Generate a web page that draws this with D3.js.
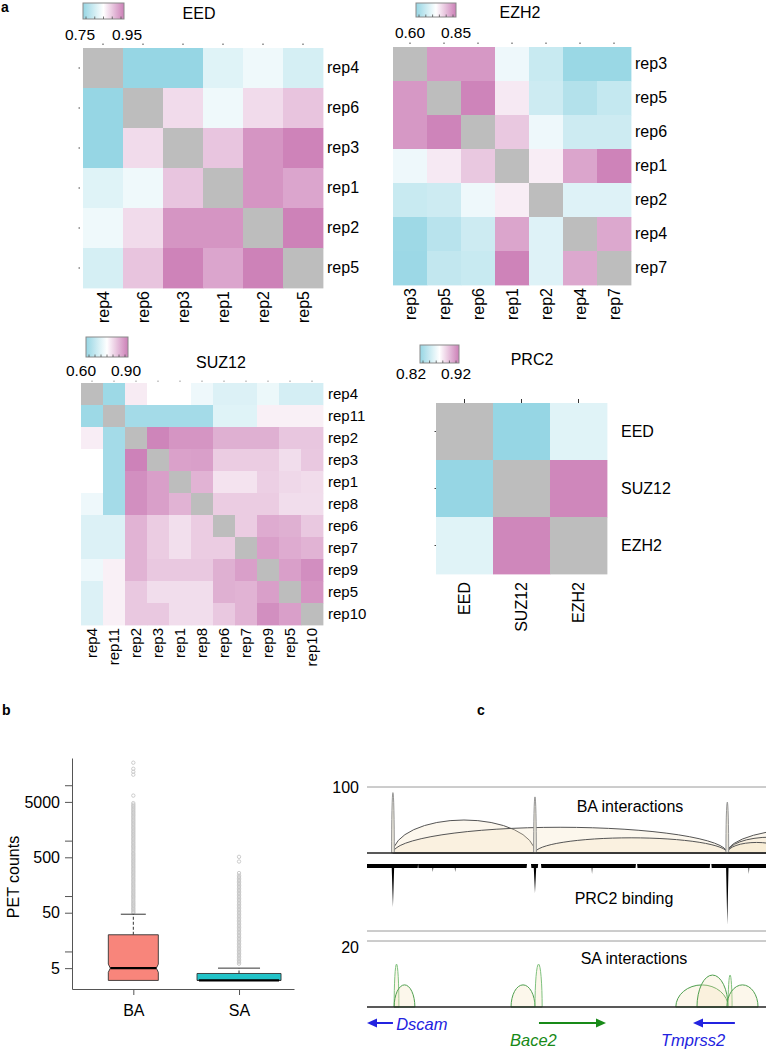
<!DOCTYPE html>
<html><head><meta charset="utf-8">
<script src="https://cdn.jsdelivr.net/npm/d3@7"></script>
<style>
body{margin:0;background:#fff;}
svg{display:block;}
</style></head><body>
<svg id="fig" width="766" height="1050"></svg>
<script>
// ================= DATA =================
// --- panel a: correlation heatmaps (null = diagonal) ---
const eedLabels = ["rep4","rep6","rep3","rep1","rep2","rep5"];
const eedValues = [
  [null, 0.74, 0.74, 0.82, 0.835, 0.81],
  [0.74, null, 0.878, 0.835, 0.878, 0.896],
  [0.74, 0.878, null, 0.895, 0.933, 0.947],
  [0.82, 0.835, 0.895, null, 0.933, 0.92],
  [0.835, 0.878, 0.933, 0.933, null, 0.948],
  [0.81, 0.896, 0.947, 0.92, 0.948, null]
];
const eedRange = [0.75, 0.95];
const eedTickLabels = ["0.75", "0.95"];

const ezh2Labels = ["rep3","rep5","rep6","rep1","rep2","rep4","rep7"];
const ezh2Values = [
  [null, 0.826, 0.826, 0.705, 0.66, 0.605, 0.605],
  [0.826, null, 0.845, 0.746, 0.665, 0.634, 0.655],
  [0.826, 0.845, null, 0.779, 0.705, 0.665, 0.665],
  [0.705, 0.746, 0.779, null, 0.743, 0.813, 0.846],
  [0.66, 0.665, 0.705, 0.743, null, 0.686, 0.686],
  [0.61, 0.64, 0.665, 0.813, 0.686, null, 0.81],
  [0.607, 0.652, 0.66, 0.846, 0.686, 0.81, null]
];
const ezh2Range = [0.60, 0.85];
const ezh2TickLabels = ["0.60", "0.85"];

const suz12Labels = ["rep4","rep11","rep2","rep3","rep1","rep8","rep6","rep7","rep9","rep5","rep10"];
const suz12Values = [
  [null, 0.61, 0.774, 0.75, 0.75, 0.726, 0.70, 0.70, 0.723, 0.688, 0.688],
  [0.61, null, 0.62, 0.62, 0.62, 0.62, 0.705, 0.705, 0.768, 0.768, 0.768],
  [0.771, 0.62, null, 0.893, 0.874, 0.874, 0.843, 0.843, 0.843, 0.817, 0.817],
  [0.75, 0.62, 0.896, null, 0.86, 0.862, 0.81, 0.81, 0.81, 0.79, 0.815],
  [0.75, 0.62, 0.881, 0.862, null, 0.839, 0.783, 0.783, 0.806, 0.796, 0.791],
  [0.726, 0.62, 0.881, 0.862, 0.839, null, 0.81, 0.81, 0.81, 0.79, 0.79],
  [0.70, 0.70, 0.839, 0.81, 0.787, 0.81, null, 0.81, 0.848, 0.843, 0.815],
  [0.70, 0.70, 0.839, 0.81, 0.787, 0.81, 0.81, null, 0.863, 0.848, 0.839],
  [0.726, 0.768, 0.839, 0.815, 0.815, 0.815, 0.843, 0.863, null, 0.863, 0.882],
  [0.70, 0.768, 0.815, 0.79, 0.79, 0.79, 0.843, 0.839, 0.863, null, 0.874],
  [0.70, 0.768, 0.815, 0.815, 0.79, 0.79, 0.815, 0.839, 0.881, 0.863, null]
];
const suz12Range = [0.60, 0.90];
const suz12TickLabels = ["0.60", "0.90"];

const prc2Labels = ["EED","SUZ12","EZH2"];
const prc2Values = [
  [null, 0.82, 0.855],
  [0.82, null, 0.917],
  [0.855, 0.917, null]
];
const prc2Range = [0.82, 0.92];
const prc2TickLabels = ["0.82", "0.92"];

// --- panel b: PET count box plots ---
const boxGroups = ["BA", "SA"];
const boxQ1 = [3, 3];
const boxMedian = [5, 3];
const boxQ3 = [20, 4];
const boxWhiskerHi = [47, 5];
const boxNotchLo = [4.2, 3];
const boxNotchHi = [5.9, 3];
const baOutliers = [50,52,55,58,61,65,68,72,76,80,85,90,95,100,106,112,118,125,132,140,148,156,165,175,185,196,207,220,232,245,260,275,290,307,325,344,364,385,407,430,455,480,510,540,570,600,640,680,720,760,800,850,900,950,1010,1070,1130,1200,1270,1340,1420,1500,1590,1680,1780,1890,2000,2120,2240,2370,2510,2660,2820,2980,3160,3340,3540,3750,3970,4200,4450,4750,6500,15500,17500,19800,25500];
const saOutliers = [6,6.4,6.8,7.2,7.7,8.2,8.7,9.2,9.8,10.4,11,11.7,12.4,13.2,14,14.9,15.8,16.8,17.8,19,20,21.3,22.6,24,25.5,27,28.7,30.5,32.4,34.4,36.5,38.8,41.2,43.7,46.4,49.3,52.3,55.6,59,62.7,66.6,70.7,75,80,85,90,95.6,101.5,108,114.6,121.7,129,137,145.6,154.6,164,174,185,196,208,221,235,260,420,510];
const petLabeledTicks = [5, 50, 500, 5000];
const petMinorTicks = [10, 100, 1000, 10000];
const petDomain = [2.1, 31000];

// --- panel c: genome browser tracks (positions in kb, region 0..1000) ---
const regionKb = [0, 1000];
const baScaleMax = 100;
const baArcStart = [65, 65, 421, 903, 903, 903];
const baArcEnd = [421, 903, 903, 1350, 1120, 1050];
const baArcHeight = [50, 39, 23, 38, 24, 16];
const baSpikePos = [65, 421, 903];
const baSpikeHeight = [92, 85, 77];
const prc2Profile = [
  [0,6],[62,6],[65,65],[68,6],[127,6],[128,0],[129,6],[164,6],[165,12],[166,6],
  [220,6],[221,12],[222,6],[400,6],[401,0],[411,0],[412,6],[418,6],[421,44],[424,6],
  [428,6],[429,0],[436,0],[437,6],[563,6],[564,15],[565,6],[673,6],[674,0],[677,0],
  [678,6],[859,6],[860,0],[863,0],[864,6],[900,6],[903,92],[906,6],[956,6],[957,15],
  [958,6],[1000,6]
];
const saScaleMax = 20;
const saArcStart = [68, 68, 361, 421, 774, 827, 905, 902];
const saArcEnd = [80, 120, 421, 439, 905, 905, 915, 980];
const saArcHeight = [13, 6.7, 6.7, 13, 6.7, 9.7, 9.7, 6.7];
const geneNames = ["Dscam", "Bace2", "Tmprss2"];
const geneStart = [0, 431, 817];
const geneEnd = [65, 599, 922];
const geneStrand = ["-", "+", "-"];
const trackNames = ["BA interactions", "PRC2 binding", "SA interactions"];

// ================= DRAWING =================
const FONT = '"Liberation Sans", Arial, Helvetica, sans-serif';
const CYAN = "#96d6e4", PINK = "#cc7fb7", DIAG = "#bdbdbd";
const svg = d3.select("#fig").attr("font-family", FONT);
const defs = svg.append("defs");

function heatmap(id, labels, values, range, tickLabels, title, L) {
  const g = svg.append("g");
  const x = d3.scaleBand().domain(labels).range([L.left, L.left + L.size]);
  const y = d3.scaleBand().domain(labels).range([L.top, L.top + L.size]);
  const mid = (range[0] + range[1]) / 2;
  const color = d3.scaleLinear().domain([range[0], mid, range[1]])
    .range([CYAN, "#ffffff", PINK]).clamp(true);
  const cells = values.flatMap((row, i) => row.map((v, j) => ({r: labels[i], c: labels[j], v})));
  g.append("g").selectAll("rect").data(cells).join("rect")
    .attr("x", d => x(d.c)).attr("y", d => y(d.r))
    .attr("width", x.bandwidth() + 0.4).attr("height", y.bandwidth() + 0.4)
    .attr("fill", d => d.v == null ? DIAG : color(d.v));

  const ra = g.append("g").attr("transform", `translate(${L.left + L.size},0)`)
    .call(d3.axisRight(y).tickSize(0).tickPadding(L.rowPad));
  ra.select(".domain").remove();
  ra.attr("font-family", FONT).attr("font-size", L.fs);
  ra.selectAll("text").attr("fill", "#000");

  const ba = g.append("g").attr("transform", `translate(0,${L.top + L.size})`)
    .call(d3.axisBottom(x).tickSize(0));
  ba.select(".domain").remove();
  ba.attr("font-family", FONT).attr("font-size", L.fs);
  ba.selectAll("text").attr("fill", "#000").attr("transform", "rotate(-90)")
    .attr("text-anchor", "end").attr("x", -L.colPad).attr("y", 0).attr("dy", "0.35em");

  const ta = g.append("g").attr("transform", `translate(0,${L.top - L.tickGap})`)
    .call(d3.axisTop(x).tickSize(L.tickLen).tickFormat(""));
  ta.select(".domain").remove();
  ta.selectAll("line").attr("stroke", L.tickColor);

  if (L.leftTicks) {
    const la = g.append("g").attr("transform", `translate(${L.left - L.tickGap},0)`)
      .call(d3.axisLeft(y).tickSize(1.5).tickFormat(""));
    la.select(".domain").remove();
    la.selectAll("line").attr("stroke", "#444");
  }

  const [cx, cy, cw, ch] = L.cb;
  const lg = defs.append("linearGradient").attr("id", "grad" + id);
  d3.range(0, 1.0001, 0.1).forEach(t => lg.append("stop")
    .attr("offset", t).attr("stop-color", color(range[0] + t * (range[1] - range[0]))));
  g.append("rect").attr("x", cx).attr("y", cy).attr("width", cw).attr("height", ch)
    .attr("fill", `url(#grad${id})`).attr("stroke", "#8a8a8a").attr("stroke-width", 1);
  const cbs = d3.scaleLinear().domain(range).range([cx + 3, cx + cw - 3]);
  g.append("g").selectAll("line").data(cbs.ticks(5)).join("line")
    .attr("x1", d => cbs(d)).attr("x2", d => cbs(d))
    .attr("y1", cy + ch - 2.5).attr("y2", cy + ch)
    .attr("stroke", "#555").attr("stroke-width", 0.8);
  g.append("g").selectAll("text").data(tickLabels).join("text")
    .attr("x", (d, i) => L.cbLabX[i]).attr("y", L.cbLabY)
    .attr("text-anchor", "middle").attr("dominant-baseline", "central")
    .attr("font-size", 15.5).text(d => d);
  g.append("text").attr("x", L.title[0]).attr("y", L.title[1])
    .attr("text-anchor", "middle").attr("dominant-baseline", "central")
    .attr("font-size", 16).text(title);
}

heatmap("eed", eedLabels, eedValues, eedRange, eedTickLabels, "EED", {
  left: 83, top: 48, size: 240, fs: 16, rowPad: 4, colPad: 3,
  tickGap: 3, tickLen: 1.5, tickColor: "#444", leftTicks: true,
  cb: [83, 3, 41, 16], cbLabX: [80, 127], cbLabY: 34, title: [199, 13]
});
heatmap("ezh2", ezh2Labels, ezh2Values, ezh2Range, ezh2TickLabels, "EZH2", {
  left: 393, top: 47, size: 238, fs: 16, rowPad: 4, colPad: 3,
  tickGap: 3, tickLen: 1.5, tickColor: "#444", leftTicks: false,
  cb: [416, 3, 40, 14], cbLabX: [410, 456], cbLabY: 32, title: [520, 12]
});
heatmap("suz12", suz12Labels, suz12Values, suz12Range, suz12TickLabels, "SUZ12", {
  left: 81, top: 383, size: 242, fs: 15, rowPad: 5, colPad: 3,
  tickGap: 1, tickLen: 1.5, tickColor: "#999", leftTicks: false,
  cb: [86, 337, 42, 20], cbLabX: [81, 126], cbLabY: 370, title: [221, 362]
});
heatmap("prc2", prc2Labels, prc2Values, prc2Range, prc2TickLabels, "PRC2", {
  left: 436, top: 403, size: 171, fs: 16, rowPad: 14, colPad: 8,
  tickGap: 0, tickLen: 4, tickColor: "#333", leftTicks: true,
  cb: [420, 345, 39, 18], cbLabX: [411, 456], cbLabY: 373, title: [532, 359]
});

[["a", 1, 12], ["b", 2, 715], ["c", 477, 715]].forEach(([t, x, y]) =>
  svg.append("text").attr("x", x).attr("y", y).attr("font-weight", "bold")
    .attr("font-size", 14).text(t));

// ---------- panel b ----------
(function () {
  const g = svg.append("g");
  const y = d3.scaleLog().domain(petDomain).range([989, 758]);
  const x = d3.scaleLinear().domain([0.42, 2.52]).range([72, 294]);
  const BOX_W = [50, 84];
  const FILL = ["#f8857b", "#22c3c8"];
  const allTicks = petLabeledTicks.concat(petMinorTicks).sort((a, b) => a - b);
  const ya = g.append("g").attr("transform", "translate(72,0)")
    .call(d3.axisLeft(y).tickValues(allTicks)
      .tickFormat(d => petLabeledTicks.includes(d) ? String(d) : "")
      .tickSize(7).tickSizeOuter(0).tickPadding(5));
  ya.attr("font-family", FONT).attr("font-size", 16);
  ya.selectAll("line,path").attr("stroke", "#555");
  ya.selectAll("text").attr("fill", "#000");
  const xa = g.append("g").attr("transform", "translate(0,989)")
    .call(d3.axisBottom(x).tickValues([1, 2]).tickFormat(i => boxGroups[i - 1])
      .tickSize(6).tickSizeOuter(0).tickPadding(10));
  xa.attr("font-family", FONT).attr("font-size", 16);
  xa.selectAll("line,path").attr("stroke", "#555");
  xa.selectAll("text").attr("fill", "#000");

  g.append("text").attr("transform", "translate(19,877) rotate(-90)")
    .attr("text-anchor", "middle").attr("font-size", 16).text("PET counts");

  const outs = [baOutliers, saOutliers];
  boxGroups.forEach((name, i) => {
    const c = x(i + 1), w = BOX_W[i], l = c - w / 2, r = c + w / 2, ind = 2;
    g.append("g").selectAll("circle").data(outs[i]).join("circle")
      .attr("cx", c).attr("cy", d => y(d)).attr("r", 1.7)
      .attr("fill", "none").attr("stroke", "#c6c6c6").attr("stroke-width", 0.9);
    g.append("line").attr("x1", c).attr("x2", c)
      .attr("y1", y(boxQ3[i])).attr("y2", y(boxWhiskerHi[i]))
      .attr("stroke", "#333").attr("stroke-dasharray", "3,2");
    g.append("line").attr("x1", c - w / 4).attr("x2", c + w / 4)
      .attr("y1", y(boxWhiskerHi[i])).attr("y2", y(boxWhiskerHi[i]))
      .attr("stroke", "#333");
    const pts = [[l, y(boxQ3[i])], [r, y(boxQ3[i])], [r, y(boxNotchHi[i])],
      [r - ind, y(boxMedian[i])], [r, y(boxNotchLo[i])], [r, y(boxQ1[i])],
      [l, y(boxQ1[i])], [l, y(boxNotchLo[i])], [l + ind, y(boxMedian[i])],
      [l, y(boxNotchHi[i])]];
    g.append("polygon").attr("points", pts.map(p => p.join(",")).join(" "))
      .attr("fill", FILL[i]).attr("stroke", "#333").attr("stroke-width", 0.9);
    g.append("line").attr("x1", l + ind).attr("x2", r - ind)
      .attr("y1", y(boxMedian[i])).attr("y2", y(boxMedian[i]))
      .attr("stroke", "#000").attr("stroke-width", 2.4);
  });
})();

// ---------- panel c ----------
(function () {
  const g = svg.append("g");
  const xg = d3.scaleLinear().domain(regionKb).range([367, 766]);
  const yBA = d3.scaleLinear().domain([0, baScaleMax]).range([853, 787]);
  const yPRC = d3.scaleLinear().domain([0, 100]).range([864, 930]);
  const ySA = d3.scaleLinear().domain([0, saScaleMax]).range([1007, 941]);
  const X0 = xg(regionKb[0]), X1 = xg(regionKb[1]);

  function arcPath(s, e, h, ys) {
    const x1 = xg(s), x2 = xg(e), y0 = ys(0), ry = y0 - ys(h), rx = (x2 - x1) / 2;
    return `M${x1},${y0}A${rx},${ry} 0 0 1 ${x2},${y0}Z`;
  }

  [yBA(baScaleMax), 931, ySA(saScaleMax)].forEach(yy =>
    g.append("line").attr("x1", X0).attr("x2", X1).attr("y1", yy).attr("y2", yy)
      .attr("stroke", "#9a9a9a").attr("stroke-width", 1));

  g.append("text").attr("x", 359).attr("y", yBA(baScaleMax)).attr("text-anchor", "end")
    .attr("dominant-baseline", "central").attr("font-size", 16).text(String(baScaleMax));
  g.append("text").attr("x", 359).attr("y", 947).attr("text-anchor", "end")
    .attr("dominant-baseline", "central").attr("font-size", 16).text(String(saScaleMax));

  const baArcs = baArcStart.map((s, i) => ({s, e: baArcEnd[i], h: baArcHeight[i]}));
  g.append("g").selectAll("path").data(baArcs).join("path")
    .attr("d", d => arcPath(d.s, d.e, d.h, yBA))
    .attr("fill", "#f4e4bd").attr("fill-opacity", 0.28)
    .attr("stroke", "#555").attr("stroke-width", 1);
  const spikes = baSpikePos.map((p, i) => ({s: p - 3.5, e: p + 3.5, h: baSpikeHeight[i]}));
  g.append("g").selectAll("path").data(spikes).join("path")
    .attr("d", d => arcPath(d.s, d.e, d.h, yBA))
    .attr("fill", "#e8e5da").attr("stroke", "#8c8c8c").attr("stroke-width", 0.9);
  g.append("line").attr("x1", X0).attr("x2", X1).attr("y1", yBA(0)).attr("y2", yBA(0))
    .attr("stroke", "#222").attr("stroke-width", 1.6);

  const area = d3.area().x(d => xg(d[0])).y0(yPRC(0)).y1(d => yPRC(d[1]));
  g.append("path").datum(prc2Profile).attr("d", area).attr("fill", "#000");

  const saArcs = saArcStart.map((s, i) => ({s, e: saArcEnd[i], h: saArcHeight[i]}));
  g.append("g").selectAll("path").data(saArcs).join("path")
    .attr("d", d => arcPath(d.s, d.e, d.h, ySA))
    .attr("fill", "#f4e4bd").attr("fill-opacity", 0.3)
    .attr("stroke", d => (d.e - d.s) < 25 ? "#7fc27f" : "#4f9f4f")
    .attr("stroke-width", 1);
  g.append("line").attr("x1", X0).attr("x2", X1).attr("y1", ySA(0)).attr("y2", ySA(0))
    .attr("stroke", "#222").attr("stroke-width", 1.6);

  const nameY = [806, 898, 958], nameX = [630, 624, 634];
  trackNames.forEach((t, i) => g.append("text").attr("x", nameX[i]).attr("y", nameY[i])
    .attr("text-anchor", "middle").attr("dominant-baseline", "central")
    .attr("font-size", 16).text(t));

  const GENE_COL = {"-": "#2323e0", "+": "#188a18"};
  const labelLayout = [[73, 1024, "start"], [417, 1040, "middle"], [817, 1040, "middle"]];
  geneNames.forEach((name, i) => {
    const col = GENE_COL[geneStrand[i]];
    const a = xg(geneStart[i]), b = xg(geneEnd[i]), yy = 1023;
    const tip = geneStrand[i] === "+" ? b : a, tail = geneStrand[i] === "+" ? a : b;
    const dir = geneStrand[i] === "+" ? 1 : -1;
    g.append("line").attr("x1", tail).attr("x2", tip - dir * 6).attr("y1", yy).attr("y2", yy)
      .attr("stroke", col).attr("stroke-width", 2);
    g.append("path").attr("d", `M${tip},${yy}L${tip - dir * 10},${yy - 4.5}L${tip - dir * 10},${yy + 4.5}Z`)
      .attr("fill", col);
    const [lx, ly, anc] = labelLayout[i];
    g.append("text").attr("x", xg(lx)).attr("y", ly).attr("text-anchor", anc)
      .attr("dominant-baseline", "central").attr("font-style", "italic")
      .attr("font-size", 16.5).attr("fill", col).text(name);
  });
})();
</script>
</body></html>
